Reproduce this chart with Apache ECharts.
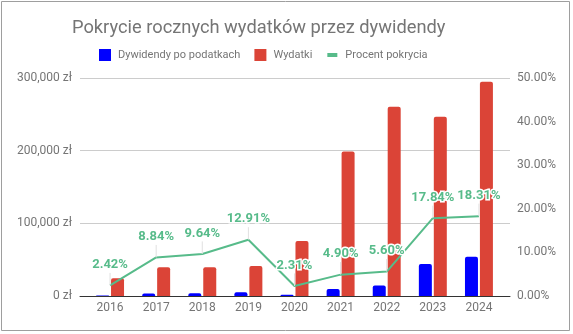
<!DOCTYPE html>
<html>
<head>
<meta charset="utf-8">
<script src="https://cdn.jsdelivr.net/npm/echarts@6/dist/echarts.min.js"></script>
<style>
  html, body { margin: 0; padding: 0; background: #fff; }
  #chart { width: 573px; height: 334px; }
</style>
</head>
<body>
<div id="chart"></div>
<script>
// Years on the category axis
const years = ['2016', '2017', '2018', '2019', '2020', '2021', '2022', '2023', '2024'];
// Dividends after tax (zł)
const dividends = [590, 3490, 3800, 5330, 1750, 9740, 14580, 44000, 53980];
// Yearly expenses (zł)
const expenses = [24400, 39500, 39500, 41300, 75800, 198800, 260300, 246600, 294800];
// Share of expenses covered by dividends (fraction)
const coverage = [0.0242, 0.0884, 0.0964, 0.1291, 0.0231, 0.0490, 0.0560, 0.1784, 0.1831];
// Left axis ticks (zł) and right axis ticks (fraction)
const moneyTicks = { min: 0, max: 300000, step: 100000 };
const pctTicks = { min: 0, max: 0.5, step: 0.1 };

const FONT = 'Roboto';
const GREY = '#757575';
const BLUE = '#0000ff';
const RED = '#db4437';
const GREEN = '#57bb8a';

const chart = echarts.init(document.getElementById('chart'), null, { renderer: 'canvas' });

const fmtMoney = v => v.toLocaleString('en-US') + ' zł';
const fmtPct = v => (v * 100).toFixed(2) + '%';

chart.setOption({
  animation: false,
  textStyle: { fontFamily: FONT },
  title: {
    text: 'Pokrycie rocznych wydatków przez dywidendy',
    left: 72, top: 19, padding: 0,
    textStyle: { fontFamily: FONT, fontSize: 18.3, fontWeight: 'normal', color: GREY }
  },
  legend: {
    left: 99, top: 49, padding: 0,
    itemWidth: 12, itemHeight: 12, itemGap: 14,
    textStyle: { fontFamily: FONT, fontSize: 11, color: GREY, padding: [0, 0, 0, 2] },
    data: [
      { name: 'Dywidendy po podatkach', icon: 'rect' },
      { name: 'Wydatki', icon: 'rect' },
      { name: 'Procent pokrycia', icon: 'path://M0,0M12,12M1,4h10v4h-10z' }
    ]
  },
  graphic: [{
    type: 'rect', silent: true, z: -10,
    shape: { x: 1.5, y: 1.5, width: 568, height: 329 },
    style: { fill: 'none', stroke: '#9e9e9e', lineWidth: 1 }
  }],
  grid: [
    // frame grid carrying the money gridlines and the baseline
    { left: 80, right: 63, top: 78, bottom: 38 },
    // data grid with the year categories
    { left: 87, right: 71, top: 78, bottom: 38 }
  ],
  xAxis: [
    {
      type: 'category', gridIndex: 0, data: [''],
      axisLine: { show: true, lineStyle: { color: '#333', width: 1 } },
      axisTick: { show: false }, axisLabel: { show: false }
    },
    {
      type: 'category', gridIndex: 1, data: years,
      axisLine: { show: false }, axisTick: { show: false },
      axisLabel: { color: GREY, fontFamily: FONT, fontSize: 12, margin: 6 }
    }
  ],
  yAxis: [
    {
      type: 'value', gridIndex: 0,
      min: moneyTicks.min, max: moneyTicks.max, interval: moneyTicks.step,
      axisLine: { show: false }, axisTick: { show: false },
      splitLine: { lineStyle: { color: '#cccccc', width: 1 } },
      axisLabel: { color: GREY, fontFamily: FONT, fontSize: 12, margin: 8, formatter: fmtMoney }
    },
    {
      type: 'value', gridIndex: 1,
      min: moneyTicks.min, max: moneyTicks.max, interval: moneyTicks.step,
      show: false
    },
    {
      type: 'value', gridIndex: 1, position: 'right',
      min: pctTicks.min, max: pctTicks.max, interval: pctTicks.step,
      axisLine: { show: false }, axisTick: { show: false }, splitLine: { show: false },
      axisLabel: { color: GREY, fontFamily: FONT, fontSize: 12, margin: 15, formatter: fmtPct }
    }
  ],
  series: [
    {
      name: 'Dywidendy po podatkach', type: 'bar',
      xAxisIndex: 1, yAxisIndex: 1,
      data: dividends,
      barWidth: 13, barGap: '15%',
      itemStyle: { color: BLUE, borderRadius: [2, 2, 0, 0] }
    },
    {
      name: 'Wydatki', type: 'bar',
      xAxisIndex: 1, yAxisIndex: 1,
      data: expenses,
      barWidth: 13, barGap: '15%',
      itemStyle: { color: RED, borderRadius: [2, 2, 0, 0] }
    },
    {
      name: 'Procent pokrycia', type: 'line',
      xAxisIndex: 1, yAxisIndex: 2,
      data: coverage,
      symbol: 'circle', symbolSize: 0.1, showSymbol: true,
      itemStyle: { color: GREEN },
      lineStyle: { color: GREEN, width: 2 },
      z: 5,
      label: {
        show: true, position: 'top', distance: 2,
        formatter: p => fmtPct(p.value),
        color: GREEN, fontFamily: FONT, fontSize: 13, fontWeight: 'bold',
        textBorderColor: '#fff', textBorderWidth: 3
      },
      labelLayout: { dy: -12 },
      labelLine: { show: true, lineStyle: { color: '#e0e0e0', width: 1 } }
    }
  ]
});
</script>
</body>
</html>
